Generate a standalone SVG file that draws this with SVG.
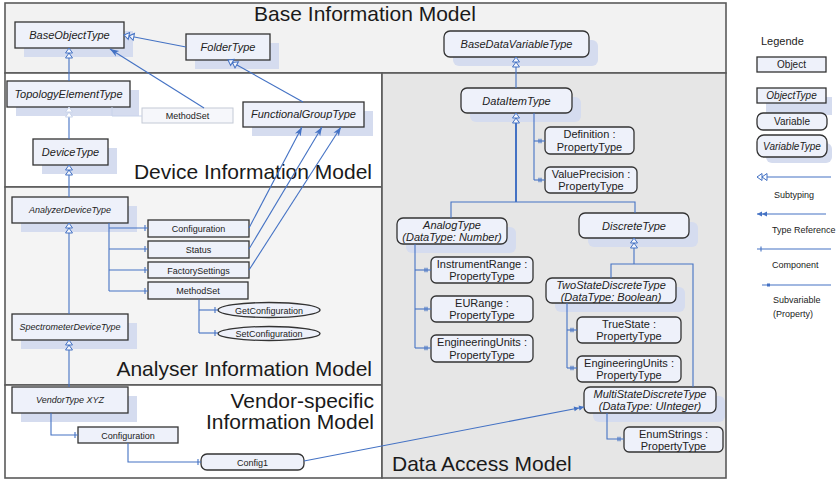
<svg xmlns="http://www.w3.org/2000/svg" width="840" height="482" viewBox="0 0 840 482">
<defs>
<style>
text{font-family:"Liberation Sans",Arial,sans-serif;fill:#222}
.title{font-size:21px;fill:#1a1a1a}
.region{stroke:#5a5a5a;stroke-width:1.6}
.node{fill:#eef1fa;stroke:#333;stroke-width:1.3}
.faded{fill:#f6f7fb;stroke:#c4cad6;stroke-width:1}
.shadow{fill:#d5dcef}
.t11{font-size:11px}
.t10{font-size:10px}
.t9{font-size:9px}
.it{font-style:italic}
.c{stroke:#4472c4;stroke-width:1.1;fill:none}
.thick{stroke:#4472c4;stroke-width:2;fill:none}
</style>
<marker id="sub" viewBox="0 0 14 10" markerUnits="userSpaceOnUse" markerWidth="14" markerHeight="10" refX="13" refY="5" orient="auto">
<path d="M13,5 L8,1.5 L8,8.5 Z M8,5 L3,1.5 L3,8.5 Z" fill="#f4f6fc" stroke="#4472c4" stroke-width="1"/>
</marker>
<marker id="subf" viewBox="0 0 14 10" markerUnits="userSpaceOnUse" markerWidth="14" markerHeight="10" refX="13" refY="5" orient="auto">
<path d="M13,5 L8,1.5 L8,8.5 Z M8,5 L3,1.5 L3,8.5 Z" fill="#fff" stroke="#c8d3ea" stroke-width="1"/>
</marker>
<marker id="comp" viewBox="0 0 8 8" markerUnits="userSpaceOnUse" markerWidth="8" markerHeight="8" refX="7" refY="4" orient="auto">
<path d="M4,1 V7" stroke="#4472c4" stroke-width="1.1"/>
</marker>
<marker id="prop" viewBox="0 0 10 8" markerUnits="userSpaceOnUse" markerWidth="10" markerHeight="8" refX="9" refY="4" orient="auto">
<path d="M3,1.8 V6.2 M5,1.8 V6.2" stroke="#4472c4" stroke-width="1.1"/>
</marker>
<marker id="arr" viewBox="0 0 10 8" markerUnits="userSpaceOnUse" markerWidth="10" markerHeight="8" refX="9" refY="4" orient="auto">
<path d="M0,0.8 L9,4 L0,7.2 L2.5,4 Z" fill="#4472c4"/>
</marker>
<marker id="tref" viewBox="0 0 12 8" markerUnits="userSpaceOnUse" markerWidth="12" markerHeight="8" refX="11" refY="4" orient="auto">
<path d="M1,1.5 L6,4 L1,6.5 Z M6,1.5 L11,4 L6,6.5 Z" fill="#4472c4"/>
</marker>
<marker id="legsub" viewBox="0 0 14 10" markerUnits="userSpaceOnUse" markerWidth="14" markerHeight="10" refX="1" refY="5" orient="auto">
<path d="M1,5 L6,1.5 L6,8.5 Z M6,5 L11,1.5 L11,8.5 Z" fill="#fff" stroke="#4472c4" stroke-width="1"/>
</marker>
<marker id="legtref" viewBox="0 0 12 8" markerUnits="userSpaceOnUse" markerWidth="12" markerHeight="8" refX="1" refY="4" orient="auto">
<path d="M1,4 L6,1.5 L6,6.5 Z M6,4 L11,1.5 L11,6.5 Z" fill="#4472c4"/>
</marker>
</defs>

<g id="regions">
<rect class="region" x="5" y="3" width="721" height="70" fill="#f2f2f2"/>
<rect class="region" x="5" y="73" width="377" height="114" fill="#ffffff"/>
<rect class="region" x="5" y="187" width="377" height="198" fill="#f4f4f4"/>
<rect class="region" x="5" y="385" width="377" height="93" fill="#ffffff"/>
<rect class="region" x="382" y="73" width="344" height="405" fill="#e6e6e6"/>
<text class="title" x="365" y="21" text-anchor="middle">Base Information Model</text>
<text class="title" x="372" y="179" text-anchor="end">Device Information Model</text>
<text class="title" x="372" y="376" text-anchor="end">Analyser Information Model</text>
<text class="title" x="374" y="408" text-anchor="end">Vendor-specific</text>
<text class="title" x="374" y="429" text-anchor="end">Information Model</text>
<text class="title" x="392" y="471">Data Access Model</text>
</g>

<g id="BaseObjectType"><rect class="shadow" x="24" y="31" width="109" height="26"/><rect class="node" x="15" y="22" width="109" height="26"/><text class="t11 it" x="69.5" y="39" text-anchor="middle">BaseObjectType</text></g>
<g id="FolderType"><rect class="shadow" x="195" y="43" width="84" height="26"/><rect class="node" x="186" y="34" width="84" height="26"/><text class="t11 it" x="228" y="51" text-anchor="middle">FolderType</text></g>
<g id="TopologyElementType"><rect class="shadow" x="16" y="90" width="123" height="26"/><rect class="node" x="7" y="81" width="123" height="26"/><text class="t11 it" x="68.5" y="98" text-anchor="middle">TopologyElementType</text></g>
<g id="MethodSetFaded"><rect class="faded" x="142" y="108" width="91" height="15"/><text class="t9" x="187.5" y="119" text-anchor="middle" fill="#333">MethodSet</text></g>
<g id="FunctionalGroupType"><rect class="shadow" x="252" y="111" width="121" height="25"/><rect class="node" x="243" y="102" width="121" height="25"/><text class="t11 it" x="303.5" y="118" text-anchor="middle">FunctionalGroupType</text></g>
<g id="DeviceType"><rect class="shadow" x="42" y="148" width="75" height="26"/><rect class="node" x="33" y="139" width="75" height="26"/><text class="t11 it" x="70.5" y="156" text-anchor="middle">DeviceType</text></g>

<g id="AnalyzerDeviceType"><rect class="shadow" x="21" y="206" width="116" height="26"/><rect class="node" x="12" y="197" width="116" height="26"/><text class="t9 it" x="70" y="213" text-anchor="middle">AnalyzerDeviceType</text></g>
<g id="Configuration"><rect class="node" x="148" y="220" width="101" height="17"/><text class="t9" x="198.5" y="232" text-anchor="middle">Configuration</text></g>
<g id="Status"><rect class="node" x="148" y="241" width="101" height="17"/><text class="t9" x="198.5" y="253" text-anchor="middle">Status</text></g>
<g id="FactorySettings"><rect class="node" x="148" y="262" width="101" height="16"/><text class="t9" x="198.5" y="273.5" text-anchor="middle">FactorySettings</text></g>
<g id="MethodSet"><rect class="node" x="148" y="282" width="100" height="17"/><text class="t9" x="198" y="294" text-anchor="middle">MethodSet</text></g>
<g id="GetConfiguration"><ellipse class="node" cx="269" cy="310" rx="51" ry="7.5"/><text class="t9" x="269" y="313.5" text-anchor="middle">GetConfiguration</text></g>
<g id="SetConfiguration"><ellipse class="node" cx="269" cy="333.5" rx="51" ry="7"/><text class="t9" x="269" y="337" text-anchor="middle">SetConfiguration</text></g>
<g id="SpectrometerDeviceType"><rect class="shadow" x="21" y="323" width="116" height="26"/><rect class="node" x="12" y="314" width="116" height="26"/><text class="t9 it" x="70" y="330" text-anchor="middle">SpectrometerDeviceType</text></g>

<g id="VendorTypeXYZ"><rect class="shadow" x="21" y="396" width="116" height="26"/><rect class="node" x="12" y="387" width="116" height="26"/><text class="t9 it" x="70" y="403" text-anchor="middle">VendorType XYZ</text></g>
<g id="VendorConfiguration"><rect class="node" x="78" y="427" width="100" height="16"/><text class="t9" x="128" y="438.5" text-anchor="middle">Configuration</text></g>
<g id="Config1"><rect class="node" x="201" y="454" width="103" height="16" rx="6"/><text class="t9" x="252.5" y="465.5" text-anchor="middle">Config1</text></g>

<g id="BaseDataVariableType"><rect class="shadow" x="453" y="40" width="145" height="26" rx="6"/><rect class="node" x="444" y="31" width="145" height="26" rx="6"/><text class="t11 it" x="516.5" y="48" text-anchor="middle">BaseDataVariableType</text></g>
<g id="DataItemType"><rect class="shadow" x="470" y="97" width="111" height="25" rx="6"/><rect class="node" x="461" y="88" width="111" height="25" rx="6"/><text class="t11 it" x="516.5" y="104.5" text-anchor="middle">DataItemType</text></g>
<g id="Definition"><rect class="node" x="545" y="127" width="89" height="27" rx="5"/><text class="t11" x="589.5" y="138" text-anchor="middle">Definition :</text><text class="t11" x="589.5" y="151" text-anchor="middle">PropertyType</text></g>
<g id="ValuePrecision"><rect class="node" x="545" y="167" width="92" height="26" rx="5"/><text class="t11" x="591" y="178" text-anchor="middle">ValuePrecision :</text><text class="t11" x="591" y="190" text-anchor="middle">PropertyType</text></g>
<g id="AnalogType"><rect class="shadow" x="406" y="227" width="110" height="26" rx="6"/><rect class="node" x="397" y="218" width="110" height="26" rx="6"/><text class="t11 it" x="452" y="229" text-anchor="middle">AnalogType</text><text class="t11 it" x="452" y="241" text-anchor="middle">(DataType: Number)</text></g>
<g id="DiscreteType"><rect class="shadow" x="588" y="222" width="110" height="25" rx="6"/><rect class="node" x="579" y="213" width="110" height="25" rx="6"/><text class="t11 it" x="634" y="229.5" text-anchor="middle">DiscreteType</text></g>
<g id="InstrumentRange"><rect class="node" x="431" y="257" width="102" height="26" rx="5"/><text class="t11" x="482" y="268" text-anchor="middle">InstrumentRange :</text><text class="t11" x="482" y="280" text-anchor="middle">PropertyType</text></g>
<g id="EURange"><rect class="node" x="431" y="296" width="102" height="26" rx="5"/><text class="t11" x="482" y="307" text-anchor="middle">EURange :</text><text class="t11" x="482" y="319" text-anchor="middle">PropertyType</text></g>
<g id="EngineeringUnitsAnalog"><rect class="node" x="431" y="335" width="102" height="27" rx="5"/><text class="t11" x="482" y="346" text-anchor="middle">EngineeringUnits :</text><text class="t11" x="482" y="359" text-anchor="middle">PropertyType</text></g>
<g id="TwoStateDiscreteType"><rect class="shadow" x="555" y="287" width="130" height="25" rx="6"/><rect class="node" x="546" y="278" width="130" height="25" rx="6"/><text class="t11 it" x="611" y="289" text-anchor="middle">TwoStateDiscreteType</text><text class="t11 it" x="611" y="301" text-anchor="middle">(DataType: Boolean)</text></g>
<g id="TrueState"><rect class="node" x="577" y="317" width="104" height="26" rx="5"/><text class="t11" x="629" y="328" text-anchor="middle">TrueState :</text><text class="t11" x="629" y="340" text-anchor="middle">PropertyType</text></g>
<g id="EngineeringUnitsTwoState"><rect class="node" x="577" y="356" width="104" height="26" rx="5"/><text class="t11" x="629" y="367" text-anchor="middle">EngineeringUnits :</text><text class="t11" x="629" y="379" text-anchor="middle">PropertyType</text></g>
<g id="MultiStateDiscreteType"><rect class="shadow" x="593" y="396" width="132" height="26" rx="6"/><rect class="node" x="584" y="387" width="132" height="26" rx="6"/><text class="t11 it" x="650" y="398" text-anchor="middle">MultiStateDiscreteType</text><text class="t11 it" x="650" y="410" text-anchor="middle">(DataType: UInteger)</text></g>
<g id="EnumStrings"><rect class="node" x="624" y="427" width="99" height="25" rx="5"/><text class="t11" x="673.5" y="438" text-anchor="middle">EnumStrings :</text><text class="t11" x="673.5" y="450" text-anchor="middle">PropertyType</text></g>

<g id="connectors">
<path class="c" marker-end="url(#sub)" d="M69,81 V48"/>
<path class="c" marker-end="url(#sub)" d="M186,47 L124,35"/>
<path class="c" marker-end="url(#sub)" d="M303,102 L228,60"/>
<path class="c" marker-end="url(#arr)" d="M204,108 L110,49"/>
<path class="c" d="M69,139 V117"/>
<path d="M69,117 V107" stroke="#c8d3ea" stroke-width="1" fill="none" marker-end="url(#subf)"/>
<path d="M112,107 V116 H142" stroke="#c8d3ea" stroke-width="1" fill="none"/>
<path class="c" marker-end="url(#sub)" d="M69,197 V165"/>
<path class="c" marker-end="url(#sub)" d="M69,314 V223"/>
<path class="c" marker-end="url(#sub)" d="M69,387 V340"/>
<path class="c" d="M109,223 V291"/>
<path class="c" marker-end="url(#comp)" d="M109,228 H148"/>
<path class="c" marker-end="url(#comp)" d="M109,249 H148"/>
<path class="c" marker-end="url(#comp)" d="M109,270 H148"/>
<path class="c" marker-end="url(#comp)" d="M109,291 H148"/>
<path class="c" d="M199,299 V333"/>
<path class="c" marker-end="url(#comp)" d="M199,310 H218"/>
<path class="c" marker-end="url(#comp)" d="M199,333 H218"/>
<path class="c" marker-end="url(#arr)" d="M249,228 L302,127"/>
<path class="c" marker-end="url(#arr)" d="M249,249 L322,127"/>
<path class="c" marker-end="url(#arr)" d="M249,270 L341,127"/>
<path class="c" marker-end="url(#comp)" d="M51,413 V435 H78"/>
<path class="c" marker-end="url(#comp)" d="M128,443 V462 H201"/>
<path class="c" marker-end="url(#tref)" d="M304,461 L584,407"/>
<path class="c" marker-end="url(#sub)" d="M516,88 V57"/>
<path class="thick" marker-end="url(#sub)" d="M516,202 V113"/>
<path class="c" d="M451,218 V202 H635 V213"/>
<path class="c" d="M534,113 V180"/>
<path class="c" marker-end="url(#prop)" d="M534,141 H545"/>
<path class="c" marker-end="url(#prop)" d="M534,180 H545"/>
<path class="c" marker-end="url(#sub)" d="M634,264 V238"/>
<path class="c" d="M611,278 V264 H693 V387"/>
<path class="c" d="M415,244 V348"/>
<path class="c" marker-end="url(#prop)" d="M415,270 H431"/>
<path class="c" marker-end="url(#prop)" d="M415,309 H431"/>
<path class="c" marker-end="url(#prop)" d="M415,348 H431"/>
<path class="c" d="M567,303 V368"/>
<path class="c" marker-end="url(#prop)" d="M567,330 H577"/>
<path class="c" marker-end="url(#prop)" d="M567,368 H577"/>
<path class="c" marker-end="url(#prop)" d="M607,413 V439 H624"/>
</g>

<g id="legend">
<text class="t11" x="761" y="45">Legende</text>
<g id="legend-object"><rect class="node" x="757" y="57" width="69" height="15"/><text class="t10" x="791.5" y="68" text-anchor="middle">Object</text></g>
<g id="legend-objecttype"><rect class="shadow" x="766" y="97" width="66" height="18"/><rect class="node" x="757" y="88" width="69" height="15"/><text class="t10 it" x="791.5" y="99" text-anchor="middle">ObjectType</text></g>
<g id="legend-variable"><rect class="node" x="757" y="113" width="70" height="17" rx="6"/><text class="t10" x="792" y="125" text-anchor="middle">Variable</text></g>
<g id="legend-variabletype"><rect class="shadow" x="766" y="143" width="66" height="20" rx="6"/><rect class="node" x="757" y="135" width="70" height="22" rx="7"/><text class="t10 it" x="792" y="149.5" text-anchor="middle">VariableType</text></g>
<path class="c" d="M757,177 H831" marker-start="url(#legsub)"/>
<text class="t9" x="794" y="198" text-anchor="middle">Subtyping</text>
<path class="c" d="M757,214 H826" marker-start="url(#legtref)"/>
<text class="t9" x="772" y="233">Type Reference</text>
<path class="c" d="M757,249 H831"/>
<path d="M761,246.5 V251.5" stroke="#4472c4" stroke-width="1.1"/>
<text class="t9" x="772" y="268">Component</text>
<path class="c" d="M762,285 H831"/>
<rect x="767" y="283.5" width="3" height="3" fill="#4472c4"/>
<text class="t9" x="773" y="303">Subvariable</text>
<text class="t9" x="773" y="317">(Property)</text>
</g>
</svg>
